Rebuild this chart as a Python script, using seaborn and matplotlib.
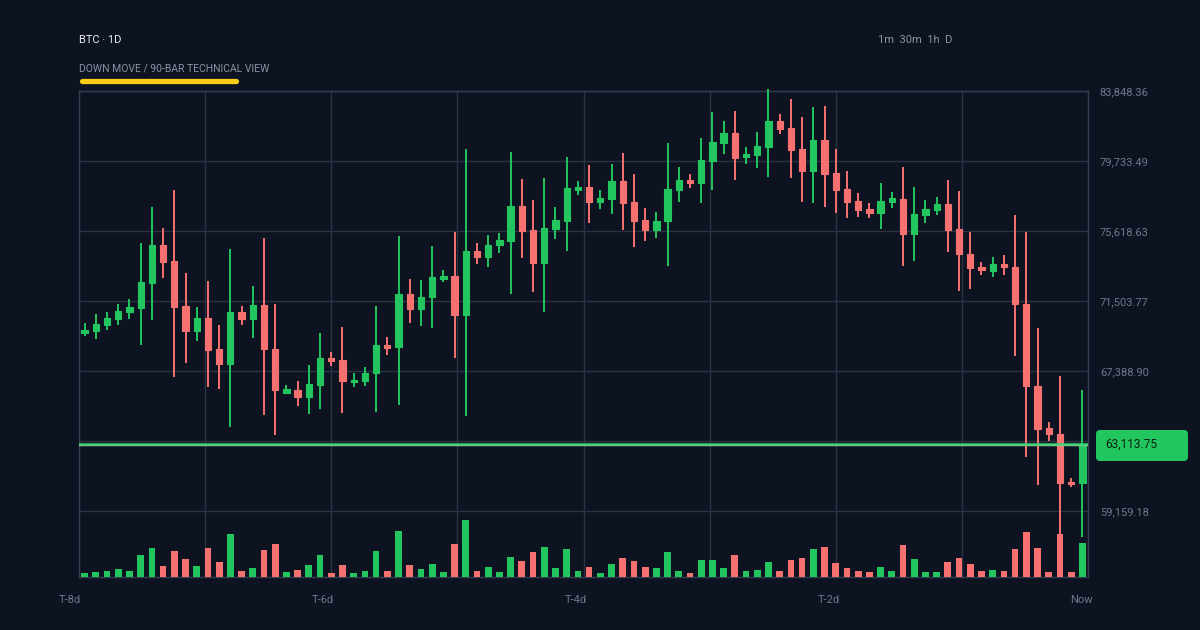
#!/usr/bin/env python3
"""
BTC 1D candlestick chart (90 bars) with volume, dark theme.
"""
import matplotlib
matplotlib.use("Agg")
import matplotlib.pyplot as plt
import matplotlib.patheffects as pe
from matplotlib.patches import FancyBboxPatch
from matplotlib.lines import Line2D
import numpy as np
import pandas as pd
import seaborn as sns

BG = "#0d1320"
GRID = "#2a3344"
SPINE = "#343e50"
GREEN = "#22c55e"
RED = "#f87171"
MUTED = "#8b93a3"
TICK = "#6f788a"

opens = [69620, 69760, 70090, 70460, 70860, 71110, 72580, 74800, 73870, 71210,
         69760, 70520, 68680, 67780, 70840, 70430, 71270, 68700, 66110, 66270,
         65880, 66580, 68170, 68020, 66730, 66800, 67250, 68940, 68780, 71900,
         71020, 71720, 72800, 72970, 70660, 74430, 74110, 74780, 75050, 77090,
         75690, 73760, 75740, 76220, 78030, 78190, 77340, 77500, 78540, 77340,
         76270, 75680, 76190, 78030, 78620, 78460, 79730, 80810, 81400, 79950,
         80090, 80580, 82070, 81660, 80440, 79160, 80970, 79010, 78110, 77380,
         76910, 76690, 77340, 77480, 75430, 76560, 76850, 77210, 75720, 74250,
         73490, 73290, 73680, 73520, 71310, 66530, 64020, 63710, 60880, 60790]
highs = [70190, 70720, 70840, 71330, 71640, 74910, 77010, 75800, 78030, 73130,
         71150, 72700, 70090, 74540, 71210, 72390, 75190, 71330, 66570, 66800,
         67740, 69610, 68490, 69980, 67250, 67610, 71210, 69390, 75330, 72780,
         72740, 74740, 73330, 75540, 80420, 74900, 75380, 75500, 80250, 78680,
         77440, 78730, 77030, 79970, 78540, 79500, 78030, 79560, 80190, 78970,
         76950, 76740, 80770, 79360, 78970, 81070, 82610, 82090, 82670, 80560,
         81420, 83970, 82510, 83380, 82320, 82890, 82970, 80440, 79160, 77840,
         77250, 78420, 77890, 79360, 78190, 77440, 77600, 78620, 77970, 75560,
         73780, 74070, 74210, 76560, 75580, 69900, 64390, 67100, 61080, 66270]
lows = [69470, 69290, 69820, 70110, 70450, 68940, 70390, 72870, 67060, 67880,
        69170, 66470, 66350, 64120, 70090, 69350, 64820, 63650, 66020, 65350,
        64880, 65160, 67700, 64940, 66470, 66530, 65000, 68350, 65390, 70230,
        70050, 69940, 72640, 68170, 64760, 73680, 73520, 74340, 71920, 74050,
        72030, 70860, 75130, 74460, 77740, 76110, 76910, 76620, 75680, 74660,
        75050, 75230, 73580, 77340, 78160, 77240, 78050, 80150, 78630, 79560,
        79340, 78810, 81300, 78750, 77340, 77280, 77050, 76660, 76370, 76460,
        76400, 75720, 76990, 73580, 73870, 76110, 76580, 74400, 72110, 72230,
        73030, 72930, 73030, 68290, 62350, 60690, 63280, 57460, 60590, 57630]
closes = [69820, 70150, 70520, 70920, 71170, 72620, 74800, 73810, 71170, 69760,
          70520, 68640, 67780, 70840, 70430, 71270, 68700, 66260, 66310, 65880,
          66630, 68140, 67980, 66800, 66880, 67250, 68920, 68760, 71920, 71020,
          71760, 72930, 72990, 70660, 74430, 74110, 74780, 75090, 77090, 75640,
          73760, 75780, 76270, 78130, 78220, 77340, 77580, 78540, 77280, 76220,
          75680, 76210, 78070, 78620, 78440, 79790, 80870, 81400, 79930, 80150,
          80620, 82090, 81630, 80380, 79160, 80970, 78990, 78030, 77340, 76850,
          76690, 77380, 77540, 75430, 76600, 76890, 77210, 75680, 74250, 73460,
          73310, 73680, 73490, 71310, 66530, 63960, 63690, 60820, 60750, 63113.75]
volumes = [12, 14, 18, 24, 18, 66, 86, 33, 78, 54,
           33, 86, 44, 129, 18, 26, 81, 99, 15, 21,
           36, 66, 12, 36, 12, 18, 78, 18, 138, 36,
           24, 39, 15, 99, 171, 18, 30, 15, 60, 48,
           75, 90, 27, 84, 18, 30, 12, 39, 57, 48,
           30, 27, 75, 18, 12, 51, 51, 27, 66, 18,
           21, 45, 18, 51, 57, 84, 90, 42, 27, 18,
           15, 30, 18, 96, 54, 15, 15, 45, 57, 39,
           18, 21, 18, 84, 135, 87, 15, 129, 15, 102]

price_ticks = [83848.36, 79733.49, 75618.63, 71503.77, 67388.90, 63274.04, 59159.18]
time_labels = ["T-8d", "T-6d", "T-4d", "T-2d", "Now"]
timeframes = "1m  30m  1h  D"
title = "BTC · 1D"
subtitle = "DOWN MOVE / 90-BAR TECHNICAL VIEW"

sns.set_theme(style="dark", rc={"axes.facecolor": BG, "figure.facecolor": BG})
plt.rcParams["font.family"] = ["Roboto", "DejaVu Sans"]

df = pd.DataFrame({"open": opens, "high": highs, "low": lows,
                   "close": closes, "volume": volumes})
df["bar"] = np.arange(len(df))
df["dir"] = np.where(df["close"] >= df["open"], "up", "down")
colors = [GREEN if d == "up" else RED for d in df["dir"]]

W, H = 1200, 630
fig = plt.figure(figsize=(12, 6.3), dpi=100)
ax = fig.add_axes([79 / W, 53 / H, 1009 / W, 486 / H])
ax.set_facecolor(BG)

# candles
ax.vlines(df["bar"], df["low"], df["high"], colors=colors, lw=1.4,
          zorder=3, clip_on=False)
body_lo = df[["open", "close"]].min(axis=1)
body_h = (df["close"] - df["open"]).abs()
ax.bar(df["bar"], body_h, bottom=body_lo, width=0.56, color=colors,
       edgecolor=colors, linewidth=0.8, joinstyle="round", zorder=3)

# last price line
last = closes[-1]
ax.axhline(last, color="#3fcf74", lw=1.8, zorder=4,
           path_effects=[pe.SimpleLineShadow(offset=(0, -1.0), shadow_color="#c9ccbd",
                                             alpha=1.0, linewidth=1.0), pe.Normal()])

# volume on its own axis
ax2 = ax.twinx()
sns.barplot(data=df, x="bar", y="volume", hue="dir",
            palette={"up": GREEN, "down": RED}, width=0.6, dodge=False,
            saturation=1, legend=False, edgecolor="none", linewidth=0, ax=ax2)
ax2.set_ylim(0, 1458)
ax2.set_axis_off()

n = len(df)
ax.set_xlim(-0.5, n - 0.5)
ax2.set_xlim(-0.5, n - 0.5)
ax.set_ylim(55279.5, 83848.36)

# grid + frame
ax.set_xticks([-0.5 + k * n / 8 for k in range(9)])
ax.set_yticks(price_ticks)
ax.set_yticklabels([f"{v:,.2f}" for v in price_ticks])
ax.grid(True, color=GRID, lw=1)
ax.yaxis.tick_right()
ax.tick_params(axis="y", length=0, pad=8.5, labelsize=8, labelcolor=TICK)
ax.tick_params(axis="x", length=0, labelbottom=False)
ax.set_xlabel("")
ax.set_ylabel("")
for s in ax.spines.values():
    s.set_visible(True)
    s.set_color(SPINE)
    s.set_linewidth(1)

# time labels under the axis
label_pos = np.linspace(-1.3, 88.9, len(time_labels))
for xp, lab in zip(label_pos, time_labels):
    ax.text(xp, -0.047, lab, transform=ax.get_xaxis_transform(), ha="center",
            va="center", fontsize=8, color=TICK, clip_on=False)

# header
fig.text(79 / W, 1 - 40 / H, title, color="#e8ebf0", fontsize=8, va="center")
fig.text(79 / W, 1 - 68 / H, subtitle, color=MUTED, fontsize=7.5, va="center")
fig.text(878 / W, 1 - 40 / H, timeframes, color=MUTED, fontsize=8, va="center")
fig.add_artist(Line2D([81.5 / W, 236 / W], [1 - 81 / H, 1 - 81 / H], color="#facc15",
                      lw=3.8, solid_capstyle="round"))

# price tag
tag = FancyBboxPatch((1096, H - 461), 92, 31, boxstyle="round,pad=0,rounding_size=4",
                     facecolor=GREEN, edgecolor="none", transform=None, zorder=5)
fig.add_artist(tag)
fig.text(1105 / W, 1 - 444 / H, f"{last:,.2f}", color="#0b2214", fontsize=8.5,
         va="center", zorder=6)

fig.savefig("out.png", dpi=100, facecolor=BG)
